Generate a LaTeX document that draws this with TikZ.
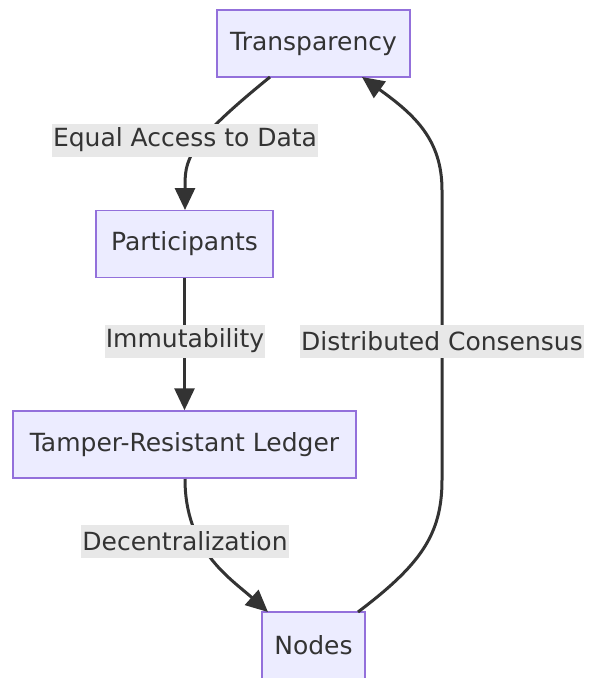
\documentclass[tikz,border=0pt]{standalone}
\usepackage{fontspec}
\setmainfont{DejaVu Sans}
\usetikzlibrary{arrows.meta}
\definecolor{nodefill}{HTML}{ECECFF}
\definecolor{nodeline}{HTML}{9370DB}
\definecolor{edgecol}{HTML}{333333}
\definecolor{lblfill}{HTML}{E8E8E8}
\begin{document}
\begin{tikzpicture}[x=1pt,y=-1pt,
  box/.style={draw=nodeline,fill=nodefill,line width=1.5pt,minimum height=67pt,
    inner xsep=0pt,text=edgecol,font=\fontsize{25pt}{29pt}\selectfont},
  lbl/.style={fill=lblfill,inner xsep=1pt,inner ysep=0pt,minimum height=33pt,
    text=edgecol,font=\fontsize{25pt}{29pt}\selectfont},
  edge/.style={draw=edgecol,line width=3pt,-{Triangle[length=22pt,width=20pt]}}]
\useasboundingbox (0,0) rectangle (593,678);
\node[box,minimum width=193pt] (t) at (313.5,43.5) {Transparency};
\node[box,minimum width=177pt] (p) at (184.5,244) {Participants};
\node[box,minimum width=343pt] (l) at (184.5,444.5) {Tamper-Resistant Ledger};
\node[box,minimum width=103pt] (n) at (313.5,645.5) {Nodes};
\coordinate (t1) at (270,77);
\coordinate (p1) at (185,210);
\coordinate (l1) at (185,479);
\coordinate (n1) at (268,612);
\coordinate (n2) at (358,612);
\coordinate (t2) at (362,77);
\draw[edge] (t1) .. controls (185,146) and (185,160) .. (p1);
\draw[edge] (p.south) -- (l.north);
\draw[edge] (l1) .. controls (185,550) and (230,578) .. (n1);
\draw[edge] (n2) .. controls (420,565) and (442,535) .. (442,480) -- (442,190)
  .. controls (442,140) and (415,115) .. (t2);
\node[lbl] (e1) at (185,140) {Equal Access to Data};
\node[lbl] (e2) at (185,341) {Immutability};
\node[lbl] (e3) at (185,541.5) {Decentralization};
\node[lbl] (e4) at (442,341) {Distributed Consensus};
\end{tikzpicture}
\end{document}
